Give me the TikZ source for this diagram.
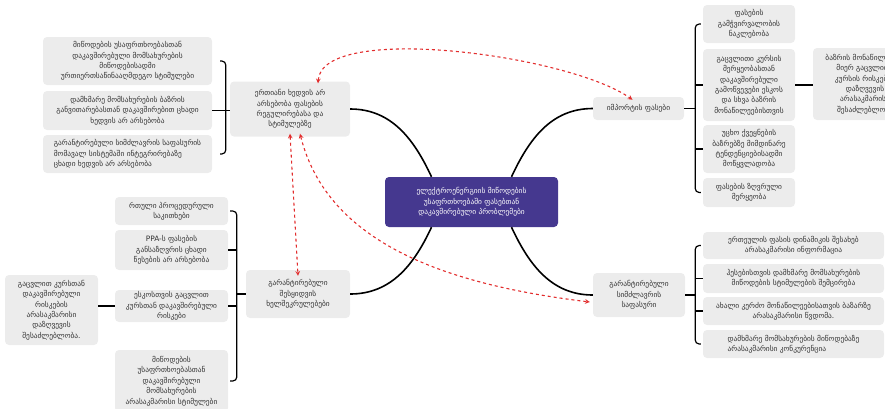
\documentclass[tikz,border=0pt]{standalone}
\usepackage{fontspec}
\setmainfont{DejaVu Sans}
\usepackage{xcolor}
\definecolor{leaf}{RGB}{236,236,236}
\definecolor{core}{RGB}{69,56,143}
\definecolor{ink}{RGB}{50,50,50}
\definecolor{alert}{RGB}{226,45,45}

\begin{document}
\begin{tikzpicture}[x=1pt, y=-1pt,
    box/.style = {fill=leaf, rounded corners=4pt, align=center, text=ink,
                  font=\fontsize{7.4}{10.4}\selectfont, inner sep=0pt},
    root/.style = {box, fill=core, text=white},
    branch/.style = {line width=1.6pt, black},
    brace/.style = {line width=1.2pt, black, rounded corners=4pt},
    tie/.style = {alert, dashed, line width=1.1pt, <->, >=stealth}
    ]
    \useasboundingbox (0,0) rectangle (885,408);

    % centre and topics
    \node[root, minimum width=173, minimum height=50] (C) at (471.5,202)
        {ელექტროენერგიის მიწოდების\\უსაფრთხოებაში ფასებთან\\დაკავშირებული პრობლემები};
    \node[box, minimum width=120, minimum height=55] (T1) at (290,109)
        {ერთიანი ხედვის არ\\არსებობა ფასების\\რეგულირებასა და\\სტიმულებზე};
    \node[box, minimum width=91, minimum height=23] (T2) at (638.5,108.5)
        {იმპორტის ფასები};
    \node[box, minimum width=104, minimum height=48] (T3) at (298,294)
        {გარანტირებული\\შესყიდვის\\ხელშეკრულებები};
    \node[box, minimum width=92, minimum height=44] (T4) at (639,295)
        {გარანტირებული\\სიმძლავრის\\საფასური};

    % leaves of T1
    \node[box, minimum width=169, minimum height=48] (a1) at (127.5,61)
        {მიწოდების უსაფრთხოებასთან\\დაკავშირებული მომსახურების\\მიწოდებისადმი\\ურთიერთსაწინააღმდეგო სტიმულები};
    \node[box, minimum width=169, minimum height=39] (a2) at (127.5,110.5)
        {დამხმარე მომსახურების ბაზრის\\განვითარებასთან დაკავშირებით ცხადი\\ხედვის არ არსებობა};
    \node[box, align=left, minimum width=169, minimum height=38] (a3) at (127.5,154)
        {გარანტირებული სიმძლავრის საფასურის\\მომავალ სისტემაში ინტეგრირებაზე\\ცხადი ხედვის არ არსებობა};

    % leaves of T2
    \node[box, minimum width=92, minimum height=38] (b1) at (749,24)
        {ფასების\\გამჭვირვალობის\\ნაკლებობა};
    \node[box, minimum width=92, minimum height=72] (b2) at (749,85)
        {გაცვლითი კურსის\\მერყეობასთან\\დაკავშირებული\\გამოწვევები ესკოს\\და სხვა ბაზრის\\მონაწილეებისთვის};
    \node[box, minimum width=92, minimum height=48] (b3) at (749,149)
        {უცხო ქვეყნების\\ბაზრებზე მიმდინარე\\ტენდენციებისადმი\\მოწყვლადობა};
    \node[box, minimum width=92, minimum height=29] (b4) at (749,192.5)
        {ფასების ზღვრული\\მერყეობა};
    \node[box, minimum width=104, minimum height=72] (b2x) at (865,84)
        {ბაზრის მონაწილეების\\მიერ გაცვლითი\\კურსის რისკების\\დაზღვევის\\არასაკმარისი\\შესაძლებლობა};

    % leaves of T3
    \node[box, minimum width=113, minimum height=28] (c1) at (171.5,211)
        {რთული პროცედურული\\საკითხები};
    \node[box, minimum width=113, minimum height=40] (c2) at (171.5,250)
        {PPA-ს ფასების\\განსაზღვრის ცხადი\\წესების არ არსებობა};
    \node[box, minimum width=113, minimum height=32] (c3) at (171.5,306)
        {ესკოსთვის გაცვლით\\კურსთან დაკავშირებული\\რისკები};
    \node[box, minimum width=113, minimum height=62] (c4) at (171.5,381)
        {მიწოდების\\უსაფრთხოებასთან\\დაკავშირებული\\მომსახურების\\არასაკმარისი სტიმულები};
    \node[box, minimum width=93, minimum height=70] (c3x) at (51.5,310)
        {გაცვლით კურსთან\\დაკავშირებული\\რისკების\\არასაკმარისი\\დაზღვევის\\შესაძლებლობა.};

    % leaves of T4
    \node[box, minimum width=181, minimum height=27] (d1) at (793.5,245.5)
        {ერთეულის ფასის დინამიკის შესახებ\\არასაკმარისი ინფორმაცია};
    \node[box, minimum width=181, minimum height=29] (d2) at (793.5,278.5)
        {ჰესებისთვის დამხმარე მომსახურების\\მიწოდების სტიმულების შემცირება};
    \node[box, minimum width=181, minimum height=28] (d3) at (793.5,311)
        {ახალი კერძო მონაწილეებისათვის ბაზარზე\\არასაკმარისი წვდომა.};
    \node[box, align=left, minimum width=181, minimum height=28] (d4) at (793.5,344)
        {დამხმარე მომსახურების მიწოდებაზე\\არასაკმარისი კონკურენცია};

    % centre to topics
    \draw[branch] (T1.east) to[out=0, in=115] ([xshift=-40]C.north);
    \draw[branch] (T2.west) to[out=180, in=65] ([xshift=40]C.north);
    \draw[branch] (T3.east) to[out=0, in=-115] ([xshift=-40]C.south);
    \draw[branch] (T4.west) to[out=180, in=-65] ([xshift=40]C.south);

    % brackets
    \draw[brace] ([xshift=8]a1.east) -| ([xshift=-4]T1.west |- a2.east) |- ([xshift=8]a3.east);
    \draw[brace] (a2.east) -- (T1.west |- a2.east);

    \draw[brace] ([xshift=-2]b1.west) -| ([xshift=11]T2.east) |- ([xshift=-2]b4.west);
    \draw[brace] ([xshift=11]T2.east |- b2.west) -- (b2.west);
    \draw[brace] ([xshift=11]T2.east |- b3.west) -- (b3.west);
    \draw[brace] (T2.east) -- ([xshift=11]T2.east);
    \draw[brace] (b2.east) -- (b2.east -| b2x.west);

    \draw[brace] ([xshift=2]c1.east) -| ([xshift=-9]T3.west) |- ([xshift=2]c4.east);
    \draw[brace] (c2.east) -- ([xshift=-9]T3.west |- c2.east);
    \draw[brace] (c3.east) -- ([xshift=-9]T3.west |- c3.east);
    \draw[brace] (T3.west) -- ([xshift=-9]T3.west);
    \draw[brace] (c3.west) -- (c3.west -| c3x.east);

    \draw[brace] ([xshift=-2]d1.west) -| ([xshift=10]T4.east) |- ([xshift=-2]d4.west);
    \draw[brace] ([xshift=10]T4.east |- d2.west) -- (d2.west);
    \draw[brace] ([xshift=10]T4.east |- d3.west) -- (d3.west);
    \draw[brace] (T4.east) -- ([xshift=10]T4.east);

    % red dashed links
    \draw[tie] ([xshift=28,yshift=-2]T1.north) .. controls (322,22) and (570,55) .. ([xshift=-6,yshift=-3]T2.north);
    \draw[tie] ([yshift=3]T1.south) -- ([yshift=-6]T3.north);
    \draw[tie] ([xshift=10,yshift=3]T1.south) .. controls (328,245) and (450,285) .. ([xshift=-3,yshift=-7]T4.west);
\end{tikzpicture}
\end{document}
